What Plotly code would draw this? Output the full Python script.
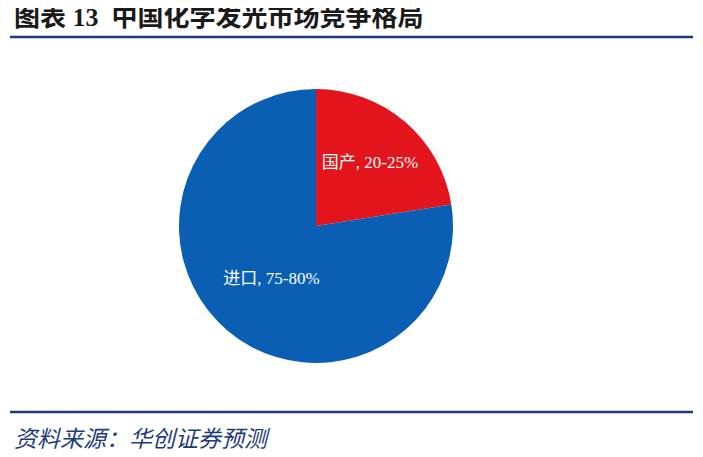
import plotly.graph_objects as go

# data
labels = ["国产", "进口"]
shares = [22.5, 77.5]
label_text = ["国产, 20-25%", "进口, 75-80%"]
colors = ["#E3141C", "#0A5FB4"]

W, H = 703, 457
# page renders with ~8px offset, compensate
DX, DY = 8, 8


def px(x):
    return (x - DX) / W


def py(y):
    return 1 - (y - DY) / H


fig = go.Figure()
fig.add_trace(go.Pie(
    labels=labels, values=shares, text=label_text,
    texttemplate="%{text}", textinfo="text", textposition="inside",
    insidetextorientation="horizontal",
    marker=dict(colors=colors, line=dict(width=0)),
    sort=False, direction="clockwise", rotation=0,
    domain=dict(x=[px(179), px(453)], y=[py(363), py(89)]),
    textfont=dict(color="white", size=17, family="Liberation Serif, Noto Sans CJK SC"),
    showlegend=False, hoverinfo="skip",
))

# title, rules and source note
fig.add_annotation(x=px(12), y=py(17), xref="paper", yref="paper", xanchor="left", yanchor="middle",
                   text="<b>图表 13  中国化学发光市场竞争格局</b>", showarrow=False,
                   font=dict(size=26, color="#1a1a1a", family="Liberation Serif, Noto Sans CJK SC"))
fig.add_shape(type="line", xref="paper", yref="paper", x0=px(10), x1=px(693), y0=py(37), y1=py(37),
              line=dict(color="#1F3C7A", width=2.5))
fig.add_shape(type="line", xref="paper", yref="paper", x0=px(10), x1=px(693), y0=py(412), y1=py(412),
              line=dict(color="#1F3C7A", width=2.5))
fig.add_annotation(x=px(12), y=py(437), xref="paper", yref="paper", xanchor="left", yanchor="middle",
                   text="<i>资料来源：华创证券预测</i>", showarrow=False,
                   font=dict(size=23, color="#1F3C7A", family="Noto Sans CJK SC"))

fig.update_layout(width=W, height=H, margin=dict(l=0, r=0, t=0, b=0),
                  paper_bgcolor="white", plot_bgcolor="white")
fig.write_html("out.html")
